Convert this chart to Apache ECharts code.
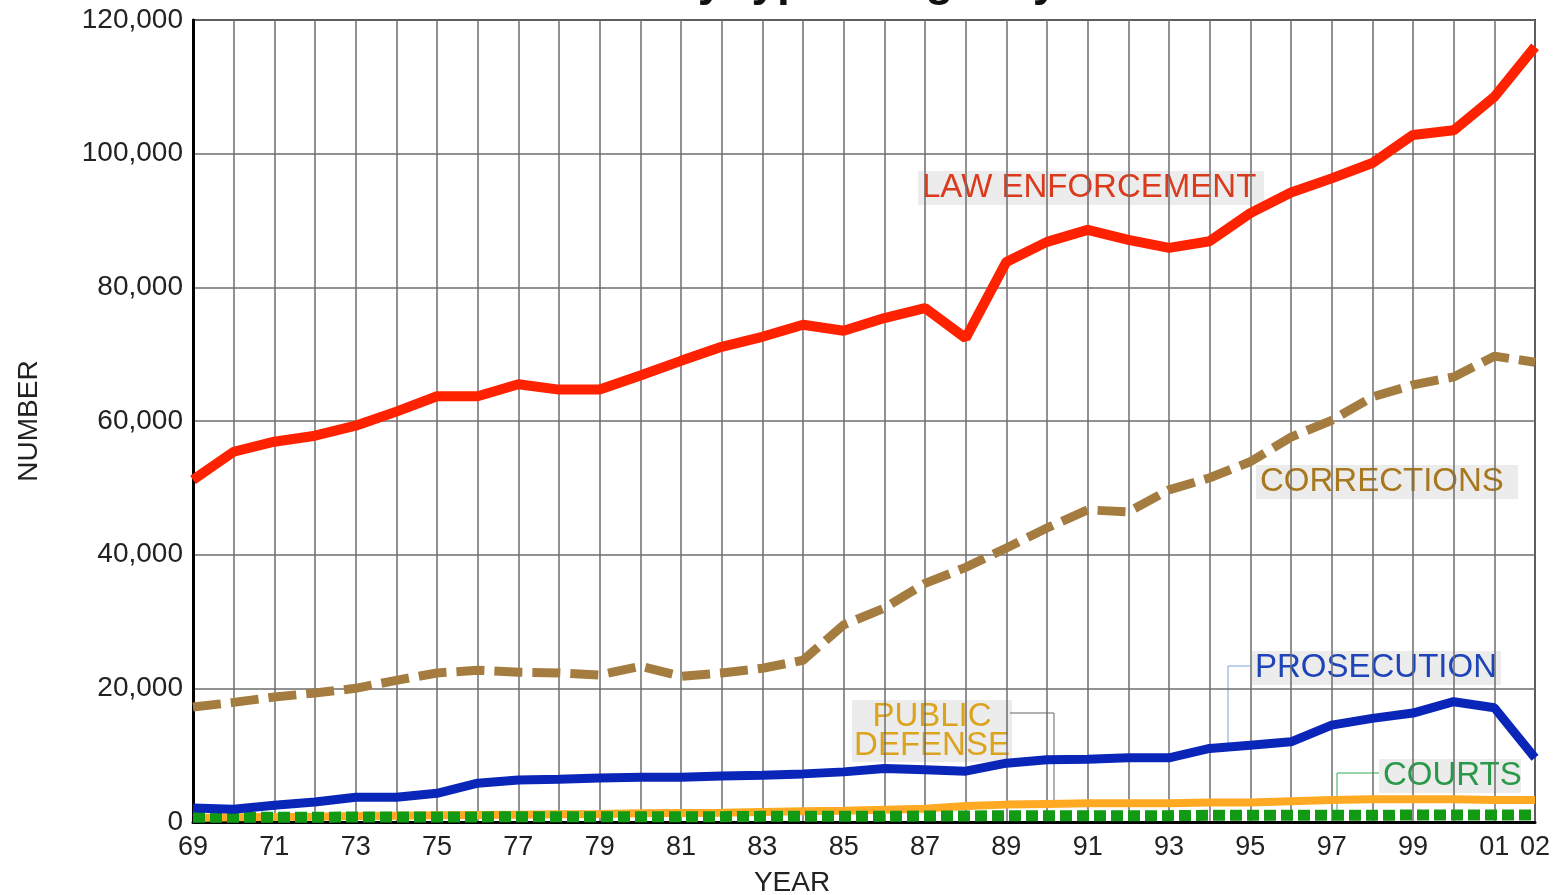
<!DOCTYPE html>
<html>
<head>
<meta charset="utf-8">
<script src="https://cdn.jsdelivr.net/npm/echarts@6/dist/echarts.min.js"></script>
<style>
  html, body { margin: 0; padding: 0; background: #fff; }
  #chart { width: 1554px; height: 895px; }
</style>
</head>
<body>
<div id="chart"></div>
<script>
// years 1969 - 2002, shown as two digits
var years = ['69','70','71','72','73','74','75','76','77','78','79','80','81','82','83','84','85',
  '86','87','88','89','90','91','92','93','94','95','96','97','98','99','00','01','02'];

var lawEnforcement = [51200, 55400, 56900, 57800, 59300, 61400, 63700, 63700, 65500, 64700, 64700, 66800,
  69000, 71100, 72600, 74400, 73500, 75400, 76900, 72400, 83800, 86800, 88600, 87100, 85900, 86900,
  91100, 94200, 96300, 98600, 102800, 103500, 108500, 116000];

var corrections = [17200, 17900, 18700, 19300, 20000, 21200, 22300, 22700, 22400, 22300, 22000, 23300,
  21800, 22300, 23000, 24200, 29500, 32000, 35700, 38100, 41000, 44000, 46700, 46400, 49700, 51500,
  53900, 57600, 60100, 63600, 65400, 66600, 69700, 68800];

var prosecution = [2100, 1900, 2500, 3000, 3700, 3700, 4300, 5800, 6300, 6400, 6600, 6700,
  6700, 6900, 7000, 7200, 7500, 8000, 7800, 7600, 8800, 9300, 9400, 9600, 9600, 11000,
  11500, 12000, 14500, 15500, 16300, 18000, 17100, 9600];

var publicDefense = [600, 700, 750, 800, 900, 950, 1000, 1050, 1100, 1150, 1200, 1300,
  1350, 1400, 1500, 1600, 1700, 1850, 2000, 2400, 2600, 2700, 2800, 2800, 2800, 2900,
  2900, 3100, 3300, 3400, 3400, 3400, 3300, 3300];

var courts = [700, 700, 700, 700, 750, 750, 750, 750, 800, 800, 800, 800,
  800, 800, 850, 850, 850, 850, 900, 900, 950, 950, 950, 950, 950, 1000,
  1000, 1000, 1000, 1000, 1050, 1050, 1050, 1050];

var font = 'Liberation Sans, Arial, Helvetica, sans-serif';

var chart = echarts.init(document.getElementById('chart'));

// label with a light grey box, like the inline labels of the original
function tag(text, x, y, color, w, h) {
  return {
    type: 'group',
    children: [
      { type: 'rect', shape: { x: x - 4, y: y - h / 2, width: w, height: h }, style: { fill: '#ececec' } },
      { type: 'text', x: x, y: y, style: { text: text, fill: color, font: '33px ' + font, textVerticalAlign: 'middle' } }
    ]
  };
}

var option = {
  animation: false,
  grid: { left: 193, right: 19, top: 20, bottom: 73, outerBoundsMode: 'none', containLabel: false,
    show: true, borderColor: '#333', borderWidth: 2, backgroundColor: 'transparent' },
  xAxis: {
    type: 'category',
    data: years,
    boundaryGap: false,
    name: 'YEAR',
    nameLocation: 'middle',
    nameGap: 47,
    nameTextStyle: { fontFamily: font, fontSize: 28, color: '#222', padding: [0, 144, 0, 0] },
    axisLine: { lineStyle: { color: '#000', width: 3 } },
    axisTick: { show: false },
    axisLabel: {
      interval: function (i) { return i % 2 === 0 || i === years.length - 1; },
      fontFamily: font, fontSize: 27, color: '#222', margin: 12
    },
    splitLine: { show: true, interval: 0, lineStyle: { color: '#6e6e6e', width: 1.5 } }
  },
  yAxis: {
    type: 'value',
    min: 0, max: 120000, interval: 20000,
    name: 'NUMBER',
    nameLocation: 'middle',
    nameGap: 150,
    nameTextStyle: { fontFamily: font, fontSize: 28, color: '#222' },
    axisLine: { show: true, lineStyle: { color: '#000', width: 3 } },
    axisTick: { show: false },
    axisLabel: {
      fontFamily: font, fontSize: 28, color: '#222', margin: 10,
      formatter: function (v) { return v.toLocaleString('en-US'); }
    },
    splitLine: { show: true, lineStyle: { color: '#6e6e6e', width: 1.5 } }
  },
  series: [
    { name: 'PUBLIC DEFENSE', type: 'line', data: publicDefense, symbol: 'none', z: 2,
      lineStyle: { color: '#ffaa22', width: 8 } },
    { name: 'COURTS', type: 'line', data: courts, symbol: 'none', z: 3,
      lineStyle: { color: '#129a14', width: 11, type: [12, 5] } },
    { name: 'PROSECUTION', type: 'line', data: prosecution, symbol: 'none', z: 4,
      lineStyle: { color: '#0a26b8', width: 9 } },
    { name: 'CORRECTIONS', type: 'line', data: corrections, symbol: 'none', z: 5,
      lineStyle: { color: '#a47c40', width: 9, type: [28, 10] } },
    { name: 'LAW ENFORCEMENT', type: 'line', data: lawEnforcement, symbol: 'none', z: 6,
      lineStyle: { color: '#ff2200', width: 10 } }
  ],
  graphic: [
    { type: 'text', x: 864, y: -18, style: { text: 'by type of agency', font: 'bold 46px ' + font, fill: '#111', textAlign: 'center', textVerticalAlign: 'middle' } },
    tag('LAW ENFORCEMENT', 922, 188, '#dc3a1c', 346, 34),
    tag('CORRECTIONS', 1260, 482, '#a8781f', 262, 34),
    tag('PROSECUTION', 1255, 668, '#1d44b8', 250, 34),
    tag('COURTS', 1383, 776, '#2a9a4a', 142, 34),
    { type: 'rect', shape: { x: 852, y: 700, width: 160, height: 62 }, style: { fill: '#ececec' } },
    { type: 'text', x: 932, y: 717, style: { text: 'PUBLIC', fill: '#dca41e', font: '33px ' + font, textAlign: 'center', textVerticalAlign: 'middle' } },
    { type: 'text', x: 932, y: 746, style: { text: 'DEFENSE', fill: '#dca41e', font: '33px ' + font, textAlign: 'center', textVerticalAlign: 'middle' } },
    { type: 'polyline', shape: { points: [[1010, 713], [1054, 713], [1054, 800]] }, style: { stroke: '#666', lineWidth: 1, fill: null } },
    { type: 'polyline', shape: { points: [[1251, 666], [1228, 666], [1228, 745]] }, style: { stroke: '#7f9fd4', lineWidth: 1, fill: null } },
    { type: 'polyline', shape: { points: [[1379, 773], [1337, 773], [1337, 815]] }, style: { stroke: '#33aa55', lineWidth: 1, fill: null } }
  ]
};

chart.setOption(option);
</script>
</body>
</html>
